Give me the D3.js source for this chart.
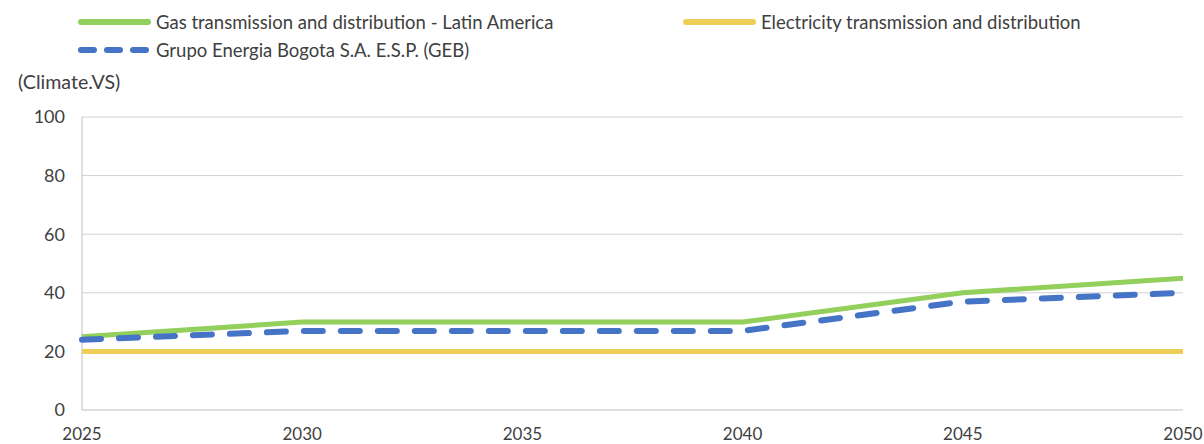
<!DOCTYPE html>
<html><head><meta charset="utf-8">
<script src="https://cdn.jsdelivr.net/npm/d3@7"></script>
<style>
body{margin:0;background:#fff;}
text{font-family:Lato,"Open Sans",sans-serif;fill:#404040;}
</style></head>
<body><svg id="c" width="1204" height="444"></svg>
<script>
const years = [2025, 2030, 2035, 2040, 2045, 2050];
const gasLatAm = [25, 30, 30, 30, 40, 45];
const electricity = [20, 20, 20, 20, 20, 20];
const geb = [24, 27, 27, 27, 37, 40];
const yTicks = [0, 20, 40, 60, 80, 100];
const seriesNames = ["Gas transmission and distribution - Latin America", "Electricity transmission and distribution", "Grupo Energia Bogota S.A. E.S.P. (GEB)"];
const yLabel = "(Climate.VS)";

const svg = d3.select("#c");
const x = d3.scaleLinear().domain([2025, 2050]).range([82, 1183]);
const y = d3.scaleLinear().domain([0, 100]).range([410, 117]);

// gridlines
svg.append("g").selectAll("line").data(yTicks.filter(d => d > 0)).join("line")
  .attr("x1", x(2025)).attr("x2", x(2050)).attr("y1", d => y(d)).attr("y2", d => y(d))
  .attr("stroke", "#d0d0d0").attr("stroke-width", 1);

// axes lines
svg.append("line").attr("x1", x(2025)).attr("x2", x(2050)).attr("y1", y(0)).attr("y2", y(0)).attr("stroke", "#bfbfbf");
svg.append("line").attr("x1", x(2025)).attr("x2", x(2025)).attr("y1", y(0)).attr("y2", y(100)).attr("stroke", "#bfbfbf");

// y tick labels
svg.append("g").selectAll("text").data(yTicks).join("text")
  .attr("x", 65).attr("y", d => y(d)).attr("dy", "0.35em").attr("text-anchor", "end")
  .attr("font-size", 18).text(d => d);

// x tick labels
svg.append("g").selectAll("text").data(years).join("text")
  .attr("x", d => x(d)).attr("y", 440).attr("text-anchor", "middle")
  .attr("font-size", 17).text(d => d);

svg.append("text").attr("x", 18).attr("y", 89).attr("font-size", 19.6).text(yLabel);

const line = d3.line().x((d, i) => x(years[i])).y(d => y(d));
const styles = [
  {data: gasLatAm, color: "#92cf5b", w: 5, dash: null},
  {data: electricity, color: "#edcf57", w: 5, dash: null},
  {data: geb, color: "#4574c6", w: 6, dash: "19,18"}
];
svg.append("path").datum(electricity).attr("d", line).attr("fill", "none")
  .attr("stroke", styles[1].color).attr("stroke-width", 5);
svg.append("path").datum(gasLatAm).attr("d", line).attr("fill", "none")
  .attr("stroke", styles[0].color).attr("stroke-width", 5);
svg.append("path").datum(geb).attr("d", line).attr("fill", "none")
  .attr("stroke", styles[2].color).attr("stroke-width", 6)
  .attr("stroke-dasharray", "19,18").attr("stroke-linecap", "round");

// legend
const leg = [
  {x: 78, y: 22, i: 0},
  {x: 683, y: 22, i: 1},
  {x: 78, y: 50, i: 2}
];
leg.forEach(l => {
  const s = styles[l.i];
  const ln = svg.append("line").attr("x1", l.x + 3).attr("x2", l.x + 70).attr("y1", l.y).attr("y2", l.y)
    .attr("stroke", s.color).attr("stroke-width", 6).attr("stroke-linecap", "round");
  if (s.dash) ln.attr("stroke-dasharray", "13,13");
  svg.append("text").attr("x", l.x + 78).attr("y", l.y + 6.5).attr("font-size", 18.5)
    .text(seriesNames[l.i]);
});
</script></body></html>
